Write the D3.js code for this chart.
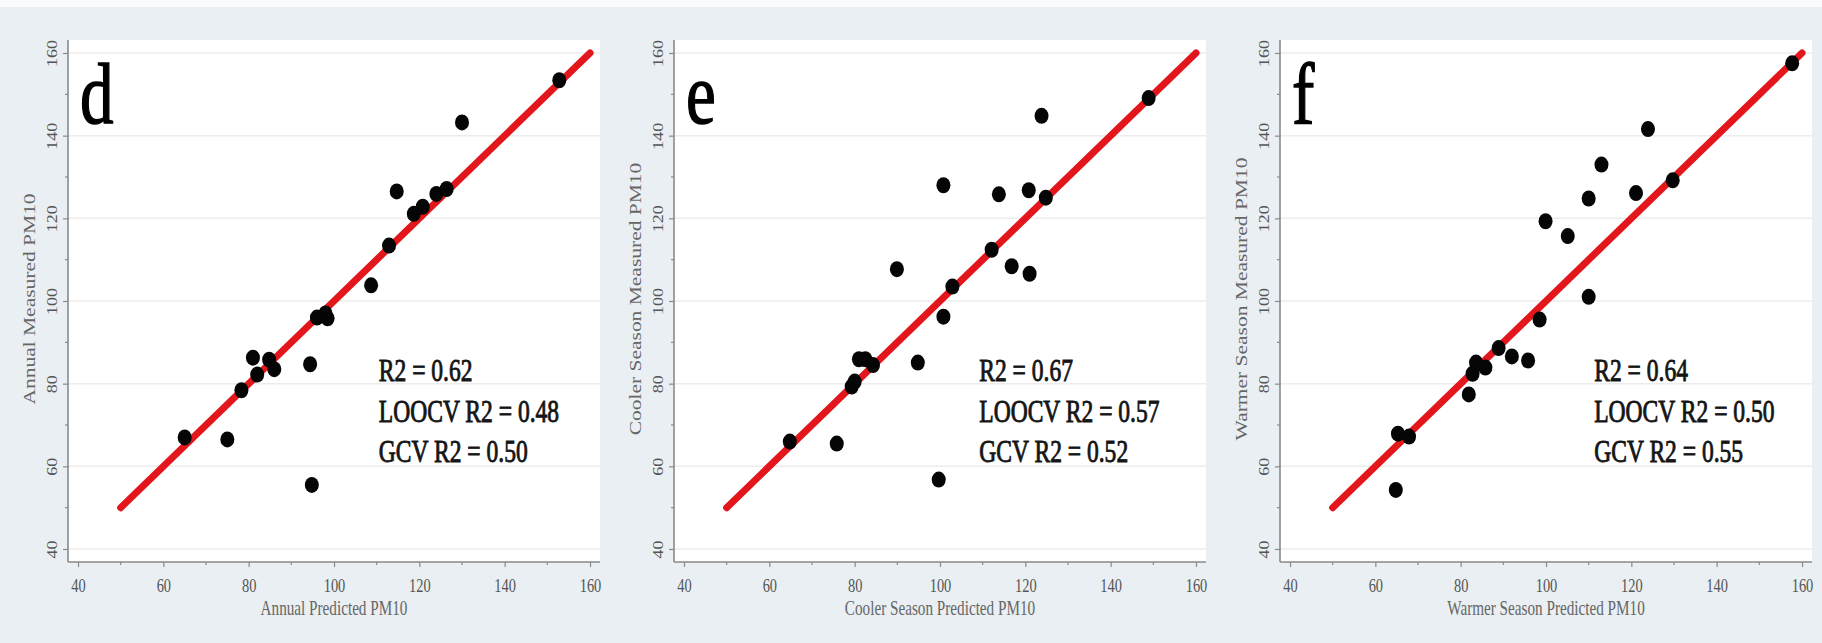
<!DOCTYPE html>
<html>
<head>
<meta charset="UTF-8">
<script src="https://d3js.org/d3.v7.min.js"></script>
<style>
  body { margin: 0; background: #e9eff2; }
  svg { display: block; }
  text { font-family: "Liberation Serif", "Times New Roman", serif; }
</style>
</head>
<body>
<div id="chart"></div>
<script>
// panel letters, axis titles and fit statistics
var letters = ["d", "e", "f"];
var xTitles = ["Annual Predicted PM10", "Cooler Season Predicted PM10", "Warmer Season Predicted PM10"];
var yTitles = ["Annual Measured PM10", "Cooler Season Measured PM10", "Warmer Season Measured PM10"];
var stats = [
    ["R2 = 0.62", "LOOCV R2 = 0.48", "GCV R2 = 0.50"],
    ["R2 = 0.67", "LOOCV R2 = 0.57", "GCV R2 = 0.52"],
    ["R2 = 0.64", "LOOCV R2 = 0.50", "GCV R2 = 0.55"]
];
var majorTicks = [40, 60, 80, 100, 120, 140, 160];
var minorTicks = [50, 70, 90, 110, 130, 150];
var refLine = [50, 160];

// predicted (x) / measured (y) PM10
var annualPred = [65, 75, 78.3, 81, 82, 84.8, 86, 94.4, 94.8, 96, 98, 98.5, 108.7, 112.9, 114.7, 118.7, 120.8, 124, 126.4, 130, 152.8];
var annualMeas = [67, 66.5, 78.4, 86.3, 82.2, 85.8, 83.5, 84.7, 55.5, 96, 97, 95.8, 103.8, 113.4, 126.5, 121.1, 122.8, 125.9, 127.1, 143.2, 153.4];

var coolerPred = [64.8, 75.8, 79.3, 80, 81, 82.5, 84.3, 89.9, 94.8, 99.7, 100.8, 100.8, 102.9, 112.1, 113.8, 116.8, 120.8, 121, 124.8, 123.8, 148.9];
var coolerMeas = [66, 65.5, 79.3, 80.5, 85.9, 85.9, 84.5, 107.7, 85.1, 56.8, 128, 96.2, 103.5, 112.4, 125.8, 108.4, 126.8, 106.6, 125, 144.8, 149.1];

var warmerPred = [64.8, 65.3, 67.9, 81.9, 82.8, 83.6, 85.8, 88.9, 92, 95.8, 98.5, 99.9, 105.1, 110, 110, 113, 121.1, 123.9, 129.7, 157.7];
var warmerMeas = [54.3, 67.9, 67.2, 77.4, 82.4, 85.1, 83.9, 88.6, 86.6, 85.6, 95.5, 119.3, 115.7, 101, 124.8, 133, 126.1, 141.6, 129.2, 157.5];

var predSets = [annualPred, coolerPred, warmerPred];
var measSets = [annualMeas, coolerMeas, warmerMeas];

var W = 1822, H = 643;
var squish = 0.76; // the source figure is compressed horizontally

var svg = d3.select("#chart").append("svg")
    .attr("width", W)
    .attr("height", H);

svg.append("rect").attr("width", W).attr("height", H).attr("fill", "#e9eff2");
svg.append("rect").attr("width", W).attr("height", 7).attr("fill", "#f9fbfc");

var axisLeft0 = [68, 674, 1280]; // x of y-axis line per panel
var statsX = [110.5, 109.2, 111.3];
var plotTop = 40, plotBottom = 562, plotW = 532;

letters.forEach(function(letter, i) {
    var ax = axisLeft0[i];
    var x = d3.scaleLinear().domain([40, 160]).range([ax + 10, ax + 522]);
    var y = d3.scaleLinear().domain([40, 160]).range([549, 53]);

    var g = svg.append("g");

    // white plot area
    g.append("rect")
        .attr("x", ax).attr("y", plotTop)
        .attr("width", plotW).attr("height", plotBottom - plotTop)
        .attr("fill", "#ffffff");

    // horizontal grid
    g.append("g").selectAll("line")
        .data(majorTicks)
        .enter().append("line")
        .attr("x1", ax).attr("x2", ax + plotW)
        .attr("y1", d => y(d)).attr("y2", d => y(d))
        .attr("stroke", "#ececec")
        .attr("stroke-width", 1.5);

    // x axis
    var xAxis = g.append("g")
        .attr("transform", "translate(0," + plotBottom + ")")
        .call(d3.axisBottom(x).tickValues(majorTicks).tickSize(5).tickSizeOuter(0).tickFormat(d3.format("d")));
    xAxis.select(".domain").attr("d", "M" + ax + ",0H" + (ax + plotW)).attr("stroke", "#8a8a8a").attr("stroke-width", 1.6);
    xAxis.selectAll(".tick line").attr("stroke", "#8a8a8a").attr("stroke-width", 1.2);
    xAxis.selectAll(".tick text")
        .attr("y", 0).attr("dy", 0)
        .attr("transform", "translate(0,30) scale(" + squish + ",1)")
        .attr("fill", "#555")
        .style("font-size", "19px");
    g.append("g").selectAll("line")
        .data(minorTicks)
        .enter().append("line")
        .attr("x1", d => x(d)).attr("x2", d => x(d))
        .attr("y1", plotBottom).attr("y2", plotBottom + 3)
        .attr("stroke", "#8a8a8a").attr("stroke-width", 1.2);

    // y axis
    var yAxis = g.append("g")
        .attr("transform", "translate(" + ax + ",0)")
        .call(d3.axisLeft(y).tickValues(majorTicks).tickSize(5).tickSizeOuter(0).tickFormat(d3.format("d")));
    yAxis.select(".domain").attr("d", "M0," + plotTop + "V" + plotBottom).attr("stroke", "#8a8a8a").attr("stroke-width", 1.6);
    yAxis.selectAll(".tick line").attr("stroke", "#8a8a8a").attr("stroke-width", 1.2);
    yAxis.selectAll(".tick text")
        .attr("x", 0).attr("dy", 0)
        .attr("text-anchor", "middle")
        .attr("transform", "translate(-11,0) scale(" + squish + ",1) rotate(-90)")
        .attr("fill", "#555")
        .style("font-size", "18px");
    g.append("g").selectAll("line")
        .data(minorTicks)
        .enter().append("line")
        .attr("x1", ax).attr("x2", ax - 3)
        .attr("y1", d => y(d)).attr("y2", d => y(d))
        .attr("stroke", "#8a8a8a").attr("stroke-width", 1.2);

    // axis titles
    g.append("text")
        .attr("transform", "translate(" + x(100) + ",615) scale(" + squish + ",1)")
        .attr("text-anchor", "middle")
        .attr("fill", "#666")
        .style("font-size", "20px")
        .text(xTitles[i]);
    g.append("text")
        .attr("transform", "translate(" + (ax - 33) + "," + ((plotTop + plotBottom) / 2 - 2) + ") scale(" + squish + ",1) rotate(-90)")
        .attr("text-anchor", "middle")
        .attr("fill", "#666")
        .style("font-size", "21.5px")
        .text(yTitles[i]);

    // 1:1 line
    g.append("line")
        .attr("x1", x(refLine[0])).attr("y1", y(refLine[0]))
        .attr("x2", x(refLine[1])).attr("y2", y(refLine[1]))
        .attr("stroke", "#e3161c")
        .attr("stroke-width", 7)
        .attr("stroke-linecap", "round");

    // points
    var pts = predSets[i].map((p, k) => ({ p: p, m: measSets[i][k] }));
    g.append("g").selectAll("ellipse")
        .data(pts)
        .enter().append("ellipse")
        .attr("cx", d => x(d.p))
        .attr("cy", d => y(d.m))
        .attr("rx", 7)
        .attr("ry", 8)
        .attr("fill", "#050505");

    // panel letter
    g.append("text")
        .attr("transform", "translate(" + (ax + 12) + ",123) scale(0.78,1)")
        .attr("fill", "#000")
        .attr("stroke", "#000")
        .attr("stroke-width", 1.4)
        .style("font-size", "86px")
        .text(letter);

    // statistics
    g.append("g").selectAll("text")
        .data(stats[i])
        .enter().append("text")
        .attr("transform", (d, k) => "translate(" + x(statsX[i]) + "," + (381 + k * 40.5) + ") scale(" + squish + ",1)")
        .attr("fill", "#151515")
        .attr("stroke", "#151515")
        .attr("stroke-width", 0.9)
        .style("font-size", "31px")
        .text(d => d);
});
</script>
</body>
</html>
